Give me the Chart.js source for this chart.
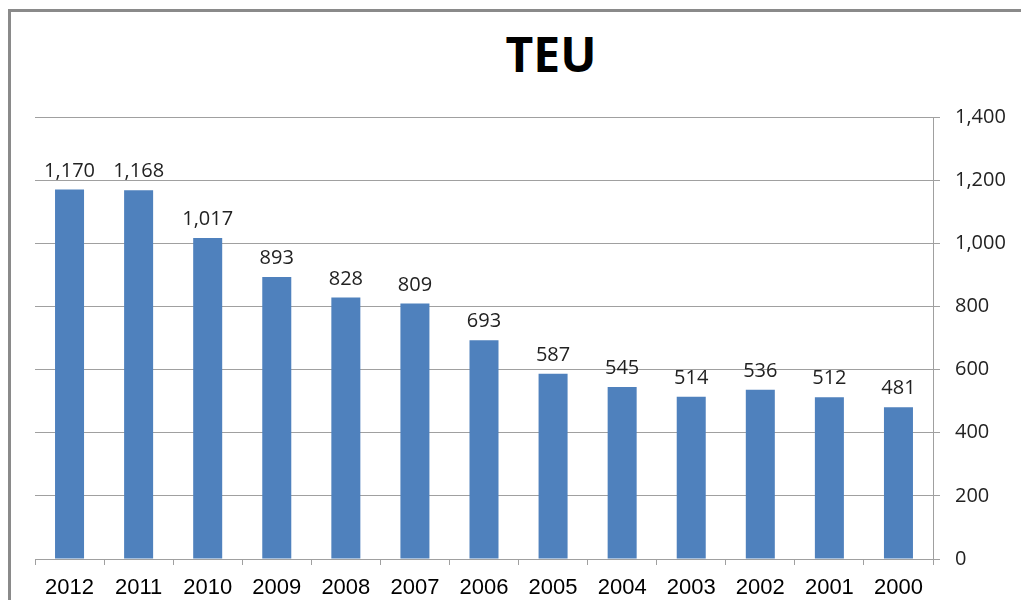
<!DOCTYPE html>
<html lang="en">
<head>
<meta charset="UTF-8">
<title>TEU</title>
<script src="https://cdn.jsdelivr.net/npm/chart.js@4/dist/chart.umd.min.js"></script>
<style>
  * { margin: 0; padding: 0; box-sizing: border-box; }
  html, body { width: 1021px; height: 600px; overflow: hidden; background: #fff; }
  .marco { position: absolute; left: 8px; top: 9px; width: 1030px; height: 640px;
           border-left: 3px solid #8a8a8a; border-top: 3px solid #8a8a8a; }
  .titulo { position: absolute; left: 451px; top: 30px; width: 200px; text-align: center;
            font-family: 'Open Sans', sans-serif; font-weight: 700; font-size: 48px;
            line-height: 48px; color: #000; }
  .lienzo { position: absolute; left: 0; top: 0; width: 1021px; height: 620px; }
</style>
</head>
<body>
<div class="marco"></div>
<div class="titulo">TEU</div>
<div class="lienzo"><canvas id="grafica" width="1021" height="620"></canvas></div>
<script>
'use strict';

// Datos del gráfico
const ANIOS = ['2012', '2011', '2010', '2009', '2008', '2007', '2006', '2005', '2004', '2003', '2002', '2001', '2000'];
const VALORES = [1170, 1168, 1017, 893, 828, 809, 693, 587, 545, 514, 536, 512, 481];
const EJE_Y = { min: 0, max: 1400, paso: 200 };

const AZUL = '#4f81bd';
const GRIS = '#a0a0a0';

// Etiquetas encima de cada barra
const etiquetasBarras = {
  id: 'etiquetasBarras',
  afterDatasetsDraw(chart) {
    const ctx = chart.ctx;
    const meta = chart.getDatasetMeta(0);
    ctx.save();
    ctx.font = '20px "Open Sans", sans-serif';
    ctx.fillStyle = '#222';
    ctx.textAlign = 'center';
    ctx.textBaseline = 'alphabetic';
    meta.data.forEach((barra, i) => {
      ctx.fillText(VALORES[i].toLocaleString('en-US'), barra.x, barra.y - 13);
    });
    ctx.restore();
  }
};

new Chart(document.getElementById('grafica'), {
  type: 'bar',
  data: {
    labels: ANIOS,
    datasets: [{
      label: 'TEU',
      data: VALORES,
      backgroundColor: AZUL,
      borderWidth: 0,
      categoryPercentage: 1,
      barPercentage: 0.42
    }]
  },
  options: {
    responsive: false,
    animation: false,
    layout: { padding: { left: 35, top: 117, right: 0, bottom: 0 } },
    plugins: {
      legend: { display: false },
      tooltip: { enabled: false }
    },
    scales: {
      x: {
        afterFit: s => { s.height = 61; },
        grid: { drawOnChartArea: false, drawTicks: true, tickLength: 6, color: GRIS, offset: true },
        border: { color: GRIS, width: 1 },
        ticks: { color: '#000', padding: 10, font: { family: '"Liberation Sans", Arial, sans-serif', size: 22 } }
      },
      y: {
        position: 'right',
        min: EJE_Y.min,
        max: EJE_Y.max,
        afterFit: s => { s.width = 88; },
        grid: { color: GRIS, tickLength: 7 },
        border: { color: GRIS, width: 1 },
        ticks: {
          stepSize: EJE_Y.paso,
          color: '#222',
          padding: 15,
          font: { family: '"Open Sans", sans-serif', size: 20 },
          callback: v => v.toLocaleString('en-US')
        }
      }
    }
  },
  plugins: [etiquetasBarras]
});
</script>
</body>
</html>
